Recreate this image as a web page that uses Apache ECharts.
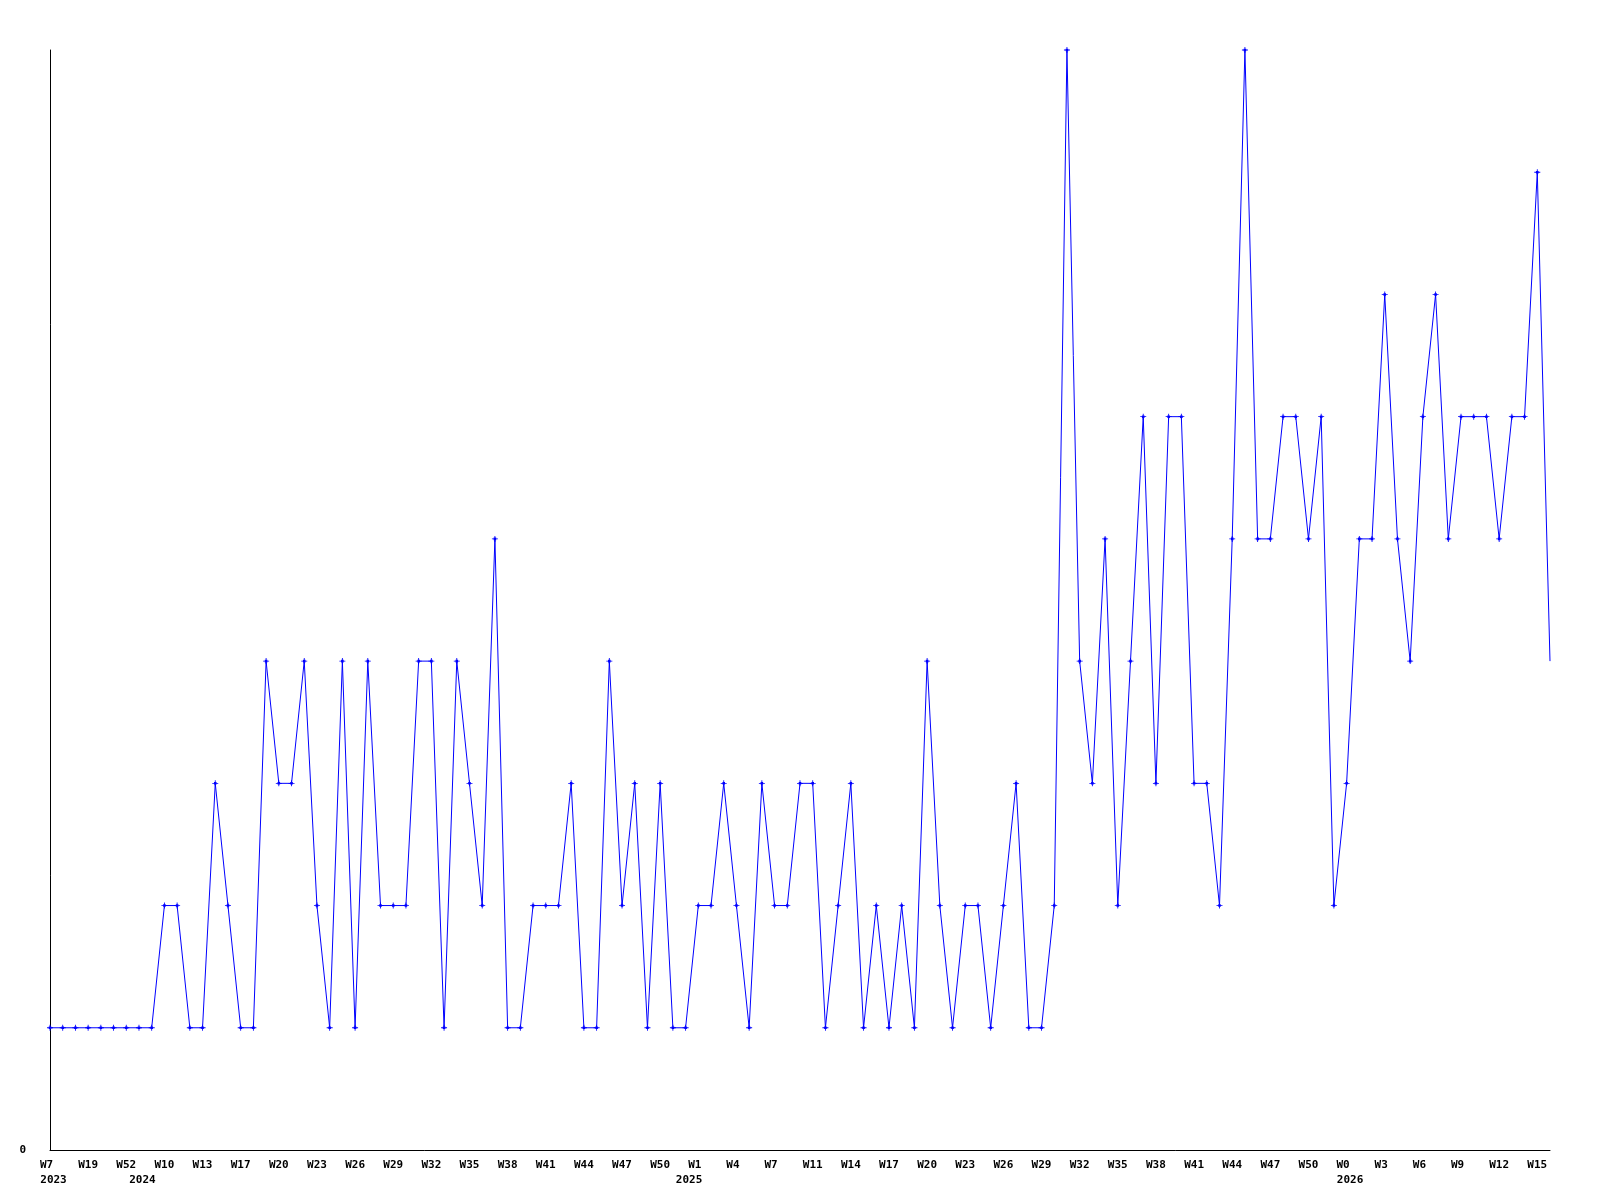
<!DOCTYPE html>
<html>
<head>
<meta charset="utf-8">
<script src="https://cdn.jsdelivr.net/npm/echarts@6/dist/echarts.min.js"></script>
<style>
html,body{margin:0;padding:0;background:#fff;}
#chart{width:1600px;height:1200px;}
</style>
</head>
<body>
<div id="chart"></div>
<script>
// Week labels, one per data point (category)
var weeks = [
  "W7","W11","W15","W19","W30","W41","W52",
  "W1","W5","W10","W11","W12","W13","W14","W16",
  "W17","W18","W19","W20","W21","W22","W23","W24","W25","W26","W27","W28","W29","W30",
  "W31","W32","W33","W34","W35","W36","W37","W38","W39","W40","W41","W42","W43","W44",
  "W45","W46","W47","W48","W49","W50","W51","W52",
  "W1","W2","W3","W4","W5","W6","W7","W8","W9",
  "W11","W12","W13","W14","W15","W16","W17","W18","W19","W20","W21","W22","W23","W24",
  "W25","W26","W27","W28","W29","W30","W31","W32","W33","W34","W35","W36","W37","W38",
  "W39","W40","W41","W42","W43","W44","W45","W46","W47","W48","W49","W50","W51","W52",
  "W0","W1","W2","W3","W4","W5","W6","W7","W8","W9","W10","W11","W12","W13","W14","W15","W16"
];
// Year labels: [category index, year]
var yearMarks = [[0, "2023"], [7, "2024"], [50, "2025"], [102, "2026"]];
// Values per week
var values = [
  1,1,1,1,1,1,1,1,1,2,
  2,1,1,3,2,1,1,4,3,3,
  4,2,1,4,1,4,2,2,2,4,
  4,1,4,3,2,5,1,1,2,2,
  2,3,1,1,4,2,3,1,3,1,
  1,2,2,3,2,1,3,2,2,3,
  3,1,2,3,1,2,1,2,1,4,
  2,1,2,2,1,2,3,1,1,2,
  9,4,3,5,2,4,6,3,6,6,
  3,3,2,5,9,5,5,6,6,5,
  6,2,3,5,5,7,5,4,6,7,
  5,6,6,6,5,6,6,8,4
];
var yTicks = [0];

var yearAt = {};
yearMarks.forEach(function (m) { yearAt[m[0]] = m[1]; });

var categories = weeks.map(function (w, i) { return i + ":" + w; });

var seriesData = values.map(function (v, i) {
  return i === values.length - 1 ? { value: v, symbol: 'none' } : v;
});

var FONT = 'DejaVu Sans Mono';
var chart = echarts.init(document.getElementById('chart'), null, { renderer: 'canvas' });
chart.setOption({
  animation: false,
  backgroundColor: '#ffffff',
  grid: { left: 50, right: 50, top: 50, bottom: 50, containLabel: false },
  xAxis: {
    type: 'category',
    data: categories,
    boundaryGap: false,
    axisLine: { show: true, lineStyle: { color: '#000', width: 1 } },
    axisTick: { show: false },
    splitLine: { show: false },
    axisLabel: {
      interval: 0,
      margin: 8,
      color: '#000',
      fontFamily: FONT,
      fontWeight: 'bold',
      fontSize: 11,
      lineHeight: 15,
      formatter: function (val, i) {
        var parts = [];
        if (i % 3 === 0) {
          var w = weeks[i];
          parts.push(w.length < 3 ? '{w|' + w + '}' : '{n|' + w + '}');
        } else {
          parts.push('{n|}');
        }
        if (yearAt[i] !== undefined) {
          parts.push('{y|' + yearAt[i] + '}');
        }
        if (parts.length === 1 && parts[0] === '{n|}') return '';
        return parts.join('\n');
      },
      rich: {
        n: { fontFamily: FONT, fontWeight: 'bold', fontSize: 11, lineHeight: 15, color: '#000' },
        w: { fontFamily: FONT, fontWeight: 'bold', fontSize: 11, lineHeight: 15, color: '#000', padding: [0, 7, 0, 0] },
        y: { fontFamily: FONT, fontWeight: 'bold', fontSize: 11, lineHeight: 15, color: '#000', padding: [0, 0, 0, 7] }
      }
    }
  },
  yAxis: {
    type: 'value',
    min: 0,
    max: 9,
    interval: 9,
    axisLine: { show: true, lineStyle: { color: '#000', width: 1 } },
    axisTick: { show: false },
    splitLine: { show: false },
    axisLabel: {
      margin: 24,
      color: '#000',
      fontFamily: FONT,
      fontWeight: 'bold',
      fontSize: 11,
      formatter: function (v) { return yTicks.indexOf(v) >= 0 ? String(v) : ''; }
    }
  },
  series: [{
    type: 'line',
    data: seriesData,
    showAllSymbol: true,
    symbol: 'path://M0,3H2V2H3V0H4V2H5V3H7V4H5V5H4V7H3V5H2V4H0Z',
    symbolSize: 6,
    itemStyle: { color: '#0000ff' },
    lineStyle: { color: '#0000ff', width: 1 },
    emphasis: { disabled: true }
  }]
});
</script>
</body>
</html>
